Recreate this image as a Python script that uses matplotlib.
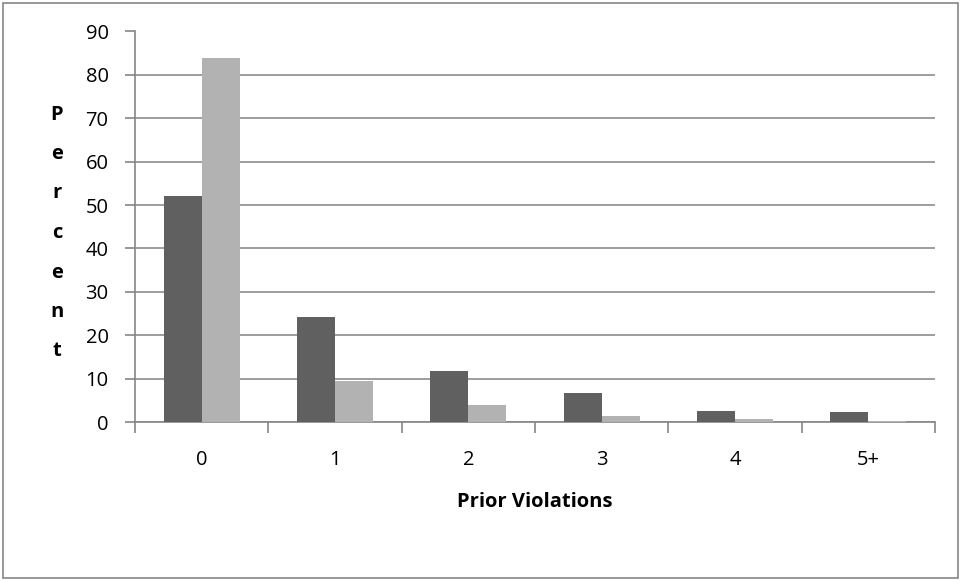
import matplotlib
matplotlib.use("Agg")
import matplotlib.pyplot as plt
import numpy as np
from matplotlib.patches import Rectangle

categories = ["0", "1", "2", "3", "4", "5+"]
series_a = [52.2, 24.3, 11.8, 6.6, 2.5, 2.3]
series_b = [83.8, 9.5, 3.9, 1.3, 0.6, 0.3]
yticks = [0, 10, 20, 30, 40, 50, 60, 70, 80, 90]

W, H = 963, 581
fig = plt.figure(figsize=(W / 100, H / 100), dpi=100)
plt.rcParams['font.family'] = ['Open Sans', 'DejaVu Sans']

left, right, top, bottom = 135, 935, 31.5, 422
ax = fig.add_axes([left / W, 1 - bottom / H, (right - left) / W, (bottom - top) / H])

x = np.arange(len(categories))
bw = 0.286
ax.bar(x - bw / 2, series_a, width=bw, color="#606060", zorder=3)
ax.bar(x + bw / 2, series_b, width=bw, color="#b2b2b2", zorder=3)

ax.set_xlim(-0.5, len(categories) - 0.5)
ax.set_ylim(0, 90)
ax.set_yticks(yticks)
ax.set_yticklabels([str(t) for t in yticks], fontsize=14.5)
ax.yaxis.grid(True, color="#8c8c8c", linewidth=1.2, zorder=0)
ax.set_axisbelow(True)

ax.set_xticks(np.arange(-0.5, len(categories), 1.0))
ax.set_xticklabels([])
ax.set_xticks(x, minor=True)
ax.set_xticklabels(categories, minor=True, fontsize=14.5)
ax.tick_params(axis="x", which="minor", length=0, pad=20)
ax.tick_params(axis="x", which="major", length=8, color="#868686", width=1.2)
ax.tick_params(axis="y", length=7, color="#868686", width=1.2, pad=12)

for s in ["top", "right"]:
    ax.spines[s].set_visible(False)
for s in ["left", "bottom"]:
    ax.spines[s].set_color("#868686")
    ax.spines[s].set_linewidth(1.2)

ax.set_xlabel("Prior Violations", fontsize=14.5, fontweight="bold", labelpad=16)
fig.text(57 / W, 1 - 233 / H, "P\ne\nr\nc\ne\nn\nt", fontsize=14.5, fontweight="bold",
         ha="center", va="center", linespacing=2.3)

fig.patches.append(Rectangle((3 / W, 3 / H), 955 / W, 575 / H, transform=fig.transFigure,
                             fill=False, edgecolor="#868686", linewidth=1.2))

fig.savefig("out.png", dpi=100)
